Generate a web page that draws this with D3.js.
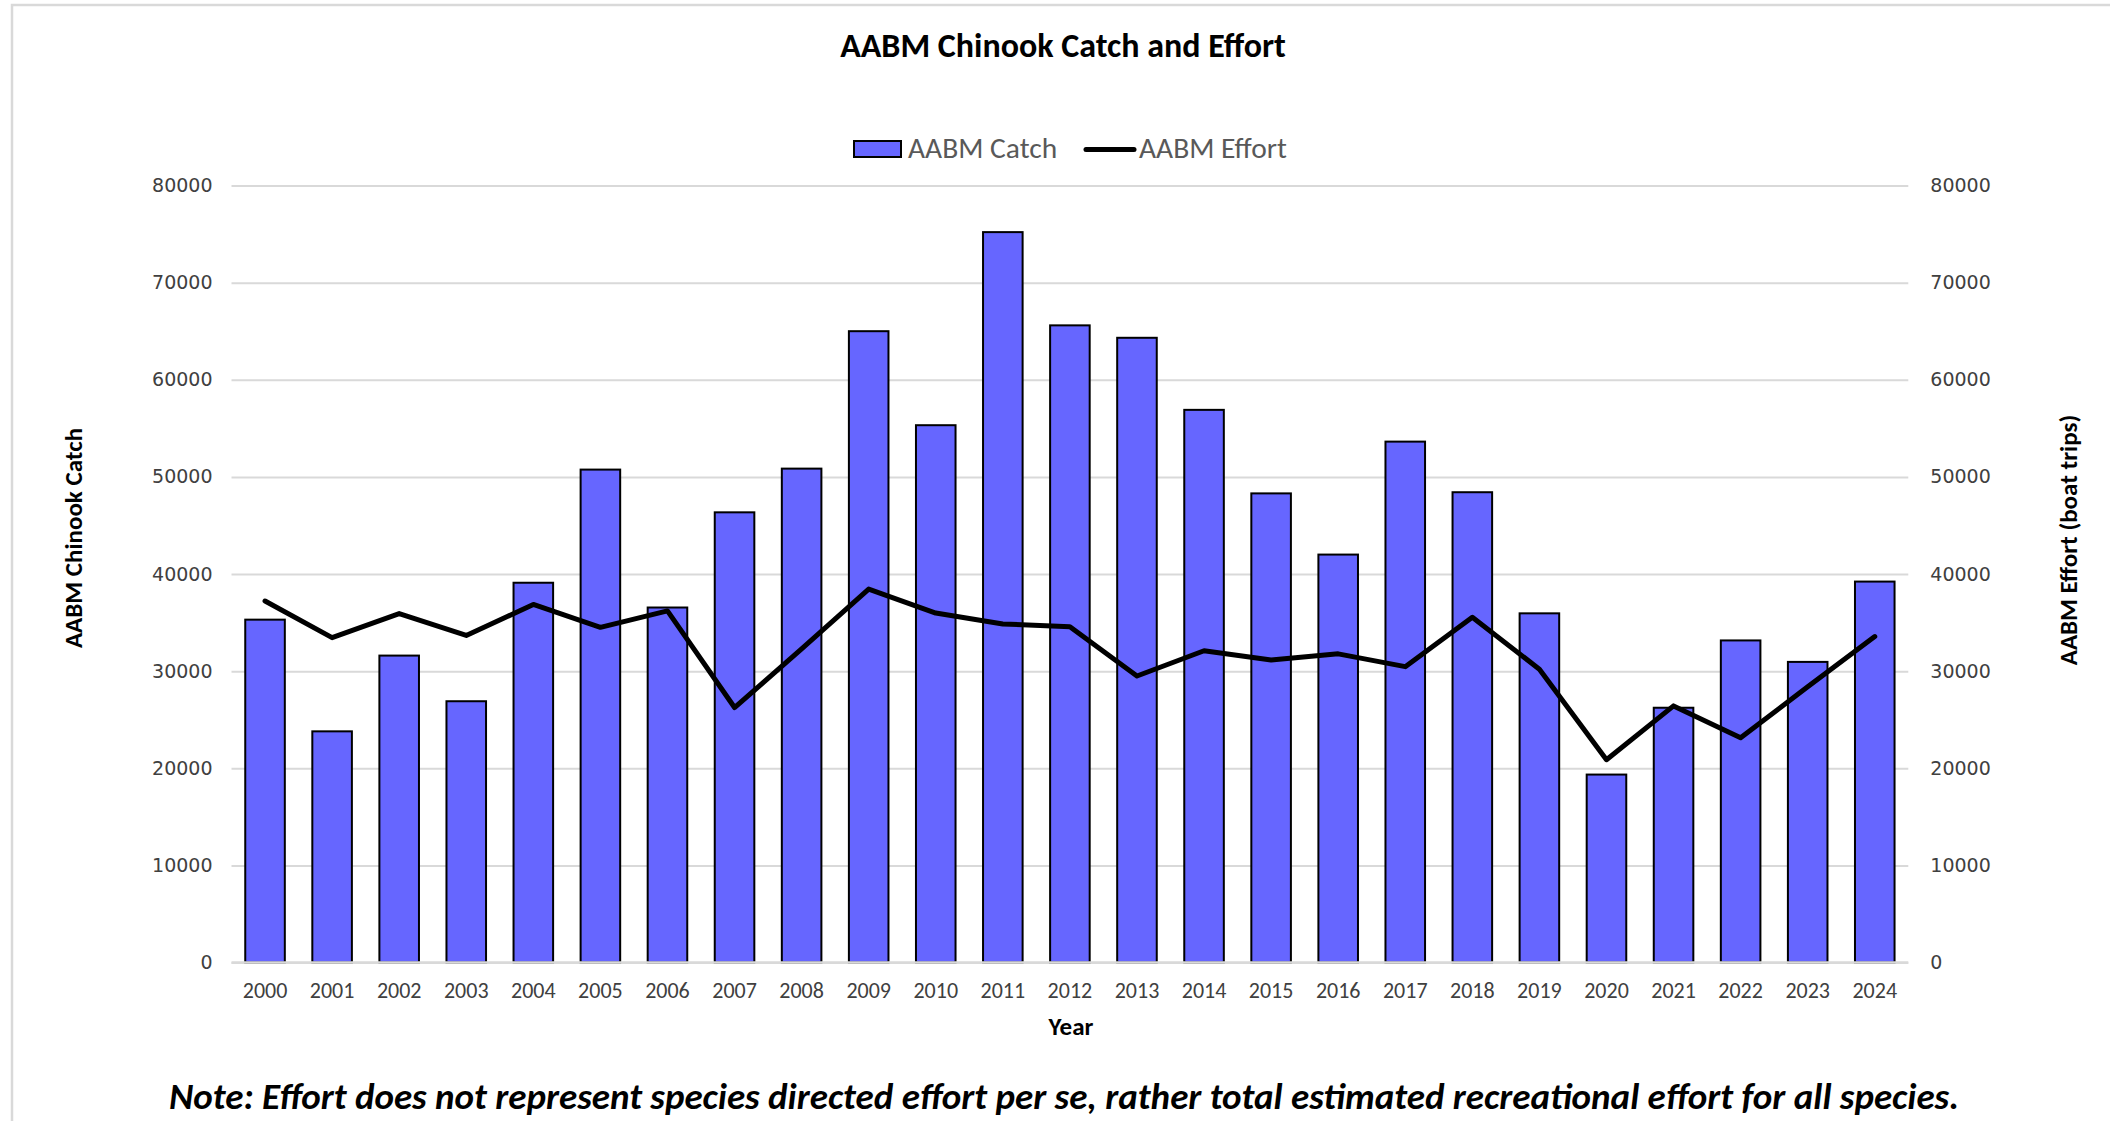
<!DOCTYPE html>
<html>
<head>
<meta charset="utf-8">
<script src="https://cdn.jsdelivr.net/npm/d3@7/dist/d3.min.js"></script>
<style>
  html, body { margin: 0; padding: 0; background: #ffffff; }
  svg { display: block; }
  .calibri { font-family: Carlito, "Liberation Sans Narrow", Roboto, sans-serif; }
  .num { font-family: "DejaVu Sans", sans-serif; }
</style>
</head>
<body>
<svg id="chart" width="2110" height="1121"></svg>
<script>
// Years on the category axis
const years = ["2000","2001","2002","2003","2004","2005","2006","2007","2008","2009",
               "2010","2011","2012","2013","2014","2015","2016","2017","2018","2019",
               "2020","2021","2022","2023","2024"];

// AABM Chinook catch (bars, left axis)
const catchValues = [35300, 23800, 31600, 26900, 39100, 50750, 36550, 46350, 50850, 65000,
                     55320, 75200, 65600, 64320, 56900, 48300, 42000, 53630, 48420, 35950,
                     19350, 26230, 33160, 30950, 39220];

// AABM effort in boat trips (line, right axis)
const effortValues = [37220, 33450, 35930, 33670, 36870, 34510, 36200, 26250, 32280, 38450,
                      35980, 34850, 34580, 29500, 32100, 31150, 31780, 30460, 35540, 30200,
                      20880, 26420, 23150, 28380, 33560];

// Axis ticks (same on both sides)
const leftTicks = [0, 10000, 20000, 30000, 40000, 50000, 60000, 70000, 80000];
const rightTicks = [0, 10000, 20000, 30000, 40000, 50000, 60000, 70000, 80000];

// Series names for the legend
const seriesNames = ["AABM Catch", "AABM Effort"];

const W = 2110, H = 1121;
const plot = { left: 231.5, right: 1908.3, top: 185.5, bottom: 962.5 };
const barColor = "#6666FF";
const gridColor = "#d9d9d9";
const tickColor = "#404040";

const svg = d3.select("#chart");

// Outer chart frame
svg.append("rect")
  .attr("x", 12).attr("y", 5)
  .attr("width", W + 20).attr("height", H + 20)
  .attr("fill", "#ffffff")
  .attr("stroke", gridColor).attr("stroke-width", 2.5);

const x = d3.scaleBand()
  .domain(years)
  .range([plot.left, plot.right])
  .paddingInner(0.41)
  .paddingOuter(0.205);

const yL = d3.scaleLinear().domain([0, 80000]).range([plot.bottom, plot.top]);
const yR = d3.scaleLinear().domain([0, 80000]).range([plot.bottom, plot.top]);

// Horizontal gridlines
const grid = svg.append("g")
  .attr("transform", `translate(${plot.left},0)`)
  .call(d3.axisLeft(yL).tickValues(leftTicks).tickSize(-(plot.right - plot.left)).tickFormat(""));
grid.select(".domain").remove();
grid.selectAll(".tick line").attr("stroke", gridColor).attr("stroke-width", 2);

// Left axis labels
const axL = svg.append("g")
  .attr("transform", `translate(${plot.left},0)`)
  .call(d3.axisLeft(yL).tickValues(leftTicks).tickSize(0).tickPadding(19).tickFormat(d3.format("d")));
axL.select(".domain").remove();
axL.selectAll("text").attr("class", "num").attr("font-size", 19).attr("fill", tickColor);

// Right axis labels
const axR = svg.append("g")
  .attr("transform", `translate(${plot.right},0)`)
  .call(d3.axisRight(yR).tickValues(rightTicks).tickSize(0).tickPadding(22).tickFormat(d3.format("d")));
axR.select(".domain").remove();
axR.selectAll("text").attr("class", "num").attr("font-size", 19).attr("fill", tickColor);

// Bars
svg.append("g").selectAll("rect")
  .data(years.map((yr, i) => ({ yr, v: catchValues[i] })))
  .join("rect")
  .attr("x", d => x(d.yr))
  .attr("y", d => yL(d.v))
  .attr("width", x.bandwidth())
  .attr("height", d => yL(0) - yL(d.v))
  .attr("fill", barColor)
  .attr("stroke", "#000000")
  .attr("stroke-width", 2);

// Bottom axis line and year labels
const axB = svg.append("g")
  .attr("transform", `translate(0,${plot.bottom})`)
  .call(d3.axisBottom(x).tickSize(0).tickPadding(20));
axB.select(".domain").attr("stroke", gridColor).attr("stroke-width", 2.5)
  .attr("d", `M${plot.left},0H${plot.right}`);
axB.selectAll("text").attr("class", "calibri").attr("font-size", 22).attr("fill", tickColor);

// Effort line
const line = d3.line()
  .x((d, i) => x(years[i]) + x.bandwidth() / 2)
  .y(d => yR(d));
svg.append("path")
  .datum(effortValues)
  .attr("d", line)
  .attr("fill", "none")
  .attr("stroke", "#000000")
  .attr("stroke-width", 5)
  .attr("stroke-linejoin", "round")
  .attr("stroke-linecap", "round");

// Title
svg.append("text")
  .attr("class", "calibri")
  .attr("x", 1063).attr("y", 57)
  .attr("text-anchor", "middle")
  .attr("font-size", 34).attr("font-weight", "bold")
  .attr("fill", "#000000")
  .text("AABM Chinook Catch and Effort");

// Legend
const lg = svg.append("g");
lg.append("rect")
  .attr("x", 854).attr("y", 141).attr("width", 47).attr("height", 16)
  .attr("fill", barColor).attr("stroke", "#000000").attr("stroke-width", 2);
lg.append("text")
  .attr("class", "calibri")
  .attr("x", 908).attr("y", 158)
  .attr("font-size", 29.5).attr("fill", "#595959")
  .text(seriesNames[0]);
lg.append("line")
  .attr("x1", 1086).attr("x2", 1134).attr("y1", 149.5).attr("y2", 149.5)
  .attr("stroke", "#000000").attr("stroke-width", 5).attr("stroke-linecap", "round");
lg.append("text")
  .attr("class", "calibri")
  .attr("x", 1139).attr("y", 158)
  .attr("font-size", 29.5).attr("fill", "#595959")
  .text(seriesNames[1]);

// Axis titles
svg.append("text")
  .attr("class", "calibri")
  .attr("transform", "translate(82,538) rotate(-90)")
  .attr("text-anchor", "middle")
  .attr("font-size", 25).attr("font-weight", "bold")
  .text("AABM Chinook Catch");

svg.append("text")
  .attr("class", "calibri")
  .attr("transform", "translate(2077,540) rotate(-90)")
  .attr("text-anchor", "middle")
  .attr("font-size", 25).attr("font-weight", "bold")
  .text("AABM Effort (boat trips)");

svg.append("text")
  .attr("class", "calibri")
  .attr("x", 1071).attr("y", 1035)
  .attr("text-anchor", "middle")
  .attr("font-size", 25).attr("font-weight", "bold")
  .text("Year");

// Footnote
svg.append("text")
  .attr("class", "calibri")
  .attr("x", 1064).attr("y", 1109)
  .attr("text-anchor", "middle")
  .attr("font-size", 37).attr("font-weight", "bold").attr("font-style", "italic")
  .text("Note: Effort does not represent species directed effort per se, rather total estimated recreational effort for all species.");
</script>
</body>
</html>
